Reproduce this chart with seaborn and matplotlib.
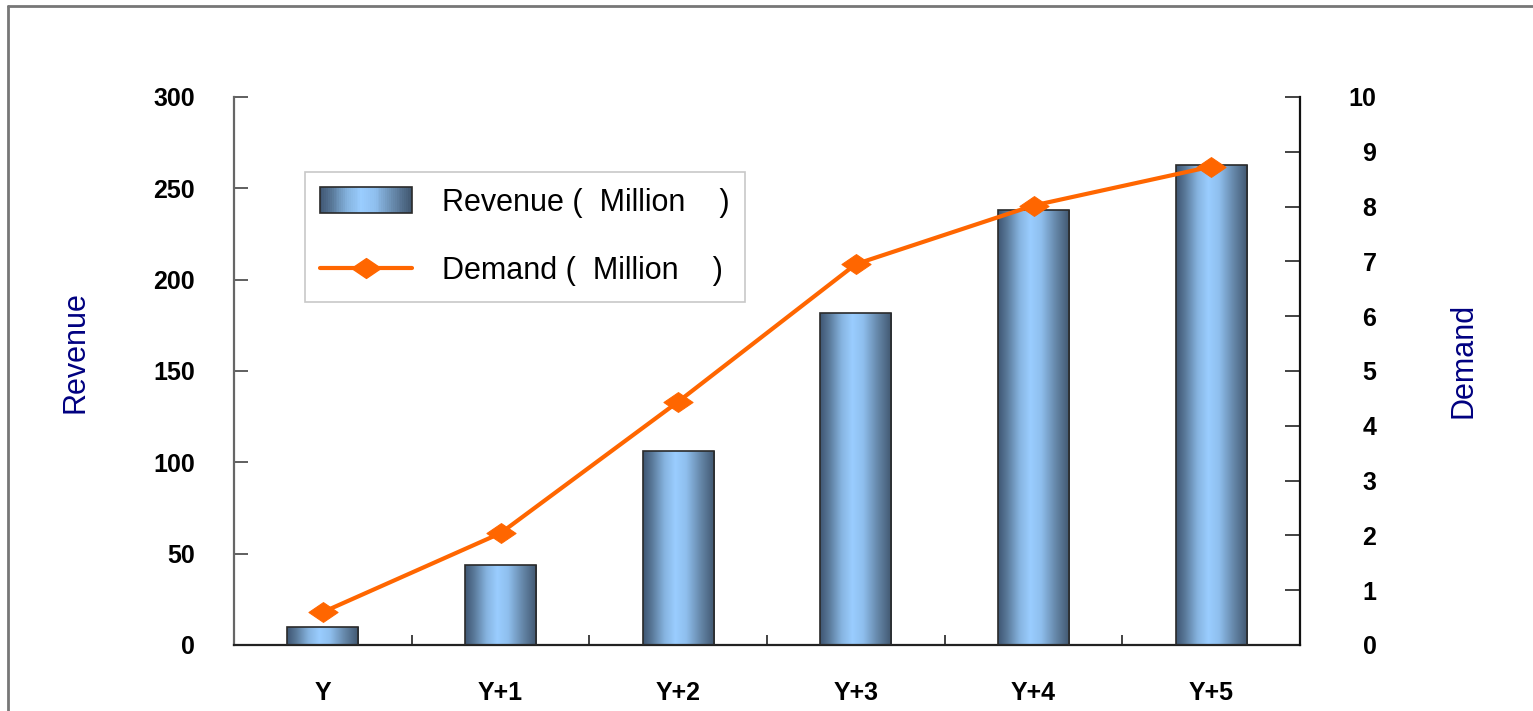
import numpy as np
import pandas as pd
import seaborn as sns
import matplotlib
matplotlib.use("Agg")
import matplotlib.pyplot as plt
from matplotlib.colors import LinearSegmentedColormap
from matplotlib.patches import Rectangle
from matplotlib.lines import Line2D
from matplotlib.path import Path
from matplotlib.legend_handler import HandlerBase

# ---- data -------------------------------------------------------------
years = ["Y", "Y+1", "Y+2", "Y+3", "Y+4", "Y+5"]
revenue = [10, 44, 106, 182, 238, 263]          # left axis
demand = [0.6, 2.04, 4.44, 6.95, 8.02, 8.73]    # right axis
revenue_ticks = [0, 50, 100, 150, 200, 250, 300]
demand_ticks = list(range(0, 11))
revenue_label = "Revenue (  Million    )"
demand_label = "Demand (  Million    )"

df = pd.DataFrame({"year": years, "revenue": revenue, "demand": demand})

# ---- style ------------------------------------------------------------
sns.set_style("white")
plt.rcParams["font.family"] = ["Liberation Sans", "DejaVu Sans"]
plt.rcParams["text.color"] = "black"
plt.rcParams["xtick.color"] = "black"
plt.rcParams["ytick.color"] = "black"

ORANGE = "#ff6600"
NAVY = "#000080"
bar_cmap = LinearSegmentedColormap.from_list(
    "cyl",
    [(0.0, "#3f5673"), (0.12, "#587797"), (0.3, "#86b4e0"), (0.45, "#9acdff"),
     (0.6, "#8fbfee"), (0.8, "#6688aa"), (1.0, "#40566f")],
)
# flattened diamond marker (wider than tall)
diamond = Path([(-1, 0), (0, 0.68), (1, 0), (0, -0.68), (-1, 0)],
               [Path.MOVETO, Path.LINETO, Path.LINETO, Path.LINETO, Path.CLOSEPOLY])

fig = plt.figure(figsize=(15.33, 7.11), dpi=100)
ax = fig.add_axes([234 / 1533, 1 - 645 / 711, (1300 - 234) / 1533, (645 - 97) / 711])

# ---- bars -------------------------------------------------------------
sns.barplot(data=df, x="year", y="revenue", ax=ax, width=0.4,
            color="#7fa6cc", edgecolor="#2a2a2a", linewidth=1.2, zorder=3)

grad = np.linspace(0, 1, 256).reshape(1, -1)
for patch in list(ax.patches):
    x0, y0 = patch.get_x(), patch.get_y()
    w, h = patch.get_width(), patch.get_height()
    img = ax.imshow(grad, cmap=bar_cmap, aspect="auto", interpolation="bicubic",
                    extent=[x0, x0 + w, y0, y0 + h], zorder=2.5)
    img.set_clip_path(patch)
    patch.set_facecolor("none")

ax.set_xlim(-0.5, len(years) - 0.5)
ax.set_ylim(0, 300)
ax.set_yticks(revenue_ticks)
ax.set_yticklabels([str(t) for t in revenue_ticks], fontsize=18,
                   fontweight="bold", color="black")
ax.set_xlabel("")
ax.set_ylabel("")

# category separators along the bottom axis
ax.set_xticks(np.arange(-0.5, len(years), 1.0), minor=True)
ax.tick_params(axis="x", which="minor", direction="in", length=7, width=1.2,
               color="#222222", bottom=True)
ax.tick_params(axis="x", which="major", length=0, pad=26, labelsize=18,
               labelcolor="black")
for lab in ax.get_xticklabels():
    lab.set_fontweight("bold")
ax.tick_params(axis="y", which="major", direction="in", length=10, width=1.2,
               color="#444444", pad=28, left=True)

for s in ["top", "right"]:
    ax.spines[s].set_visible(False)
ax.spines["left"].set_color("#666666")
ax.spines["left"].set_linewidth(1.6)
ax.spines["bottom"].set_color("#222222")
ax.spines["bottom"].set_linewidth(1.6)

# ---- line on secondary axis ------------------------------------------
ax2 = ax.twinx()
sns.lineplot(data=df, x="year", y="demand", ax=ax2, sort=False, color=ORANGE,
             linewidth=3, marker=diamond, markersize=21,
             markeredgecolor=ORANGE, markerfacecolor=ORANGE)
ax2.set_ylim(0, 10)
ax2.set_xlim(-0.5, len(years) - 0.5)
ax2.set_yticks(demand_ticks)
ax2.set_yticklabels([str(t) for t in demand_ticks], fontsize=18,
                    fontweight="bold", ha="right", color="black")
ax2.tick_params(axis="y", direction="in", length=11, width=1.2, color="#222222",
                pad=55, right=True)
ax2.set_xlabel("")
ax2.set_ylabel("")
for s in ["top", "left", "bottom"]:
    ax2.spines[s].set_visible(False)
ax2.spines["right"].set_color("#111111")
ax2.spines["right"].set_linewidth(1.6)

# ---- legend -----------------------------------------------------------
class GradientBarHandler(HandlerBase):
    def create_artists(self, legend, orig_handle, xdescent, ydescent,
                       width, height, fontsize, trans):
        n = 48
        arts = []
        for i in range(n):
            arts.append(Rectangle((-xdescent + i * width / n, -ydescent),
                                  width / n + 0.3, height,
                                  facecolor=bar_cmap((i + 0.5) / n),
                                  edgecolor="none", transform=trans))
        arts.append(Rectangle((-xdescent, -ydescent), width, height, fill=False,
                              edgecolor="#2a2a2a", linewidth=1.2, transform=trans))
        return arts

bar_handle = Rectangle((0, 0), 1, 1)
line_handle = Line2D([], [], color=ORANGE, linewidth=3, marker=diamond,
                     markersize=21, markerfacecolor=ORANGE, markeredgecolor=ORANGE)
leg = ax2.legend([bar_handle, line_handle], [revenue_label, demand_label],
                 handler_map={Rectangle: GradientBarHandler()},
                 loc="upper left", bbox_to_anchor=(0.0666, 0.863),
                 borderaxespad=0, prop={"size": 22}, handlelength=3.0,
                 handleheight=0.92, handletextpad=1.0, labelspacing=1.25,
                 borderpad=0.5, frameon=True, fancybox=False, framealpha=1)
leg.get_frame().set_edgecolor("#c8c8c8")
leg.get_frame().set_linewidth(1.2)

# ---- axis titles ------------------------------------------------------
fig.text(76 / 1533, 1 - 352 / 711, "Revenue", rotation=90, color=NAVY,
         fontsize=22, ha="center", va="center")
fig.text(1463 / 1533, 1 - 360 / 711, "Demand", rotation=90, color=NAVY,
         fontsize=22, ha="center", va="center")

# ---- outer frame ------------------------------------------------------
fig.add_artist(Line2D([7.5 / 1533, 1.0], [1 - 5.5 / 711, 1 - 5.5 / 711],
                      transform=fig.transFigure, color="#777777", linewidth=2))
fig.add_artist(Line2D([7.5 / 1533, 7.5 / 1533], [0, 1 - 5.5 / 711],
                      transform=fig.transFigure, color="#777777", linewidth=2))

fig.savefig("out.png", dpi=100, facecolor="white")
